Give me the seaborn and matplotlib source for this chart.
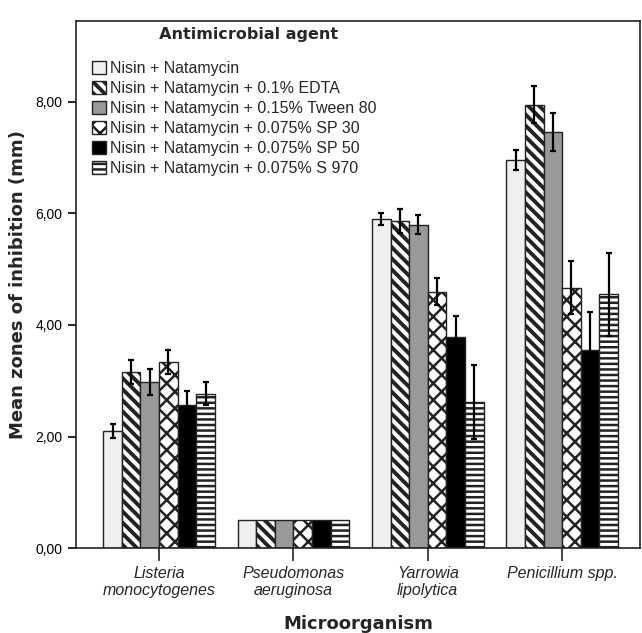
import numpy as np
import pandas as pd
import matplotlib
matplotlib.use("Agg")
import matplotlib.pyplot as plt
import seaborn as sns
from matplotlib.ticker import FuncFormatter

# data
organisms = ["Listeria\nmonocytogenes", "Pseudomonas\naeruginosa",
             "Yarrowia\nlipolytica", "Penicillium spp."]
agents = ["Nisin + Natamycin",
          "Nisin + Natamycin + 0.1% EDTA",
          "Nisin + Natamycin + 0.15% Tween 80",
          "Nisin + Natamycin + 0.075% SP 30",
          "Nisin + Natamycin + 0.075% SP 50",
          "Nisin + Natamycin + 0.075% S 970"]

# mean zones per agent, one value per organism
nn = [2.10, 0.50, 5.90, 6.96]
nn_edta = [3.16, 0.50, 5.86, 7.95]
nn_tween = [2.98, 0.50, 5.80, 7.46]
nn_sp30 = [3.34, 0.50, 4.60, 4.67]
nn_sp50 = [2.56, 0.50, 3.78, 3.56]
nn_s970 = [2.77, 0.50, 2.62, 4.55]

# error bar half-widths
err_nn = [0.12, 0.0, 0.11, 0.18]
err_edta = [0.21, 0.0, 0.22, 0.33]
err_tween = [0.24, 0.0, 0.17, 0.34]
err_sp30 = [0.21, 0.0, 0.25, 0.47]
err_sp50 = [0.26, 0.0, 0.38, 0.68]
err_s970 = [0.21, 0.0, 0.66, 0.74]

means = [nn, nn_edta, nn_tween, nn_sp30, nn_sp50, nn_s970]
errs = [err_nn, err_edta, err_tween, err_sp30, err_sp50, err_s970]

rows = []
for a, m, e in zip(agents, means, errs):
    for o, v, s in zip(organisms, m, e):
        rows.append({"Microorganism": o, "Agent": a, "mean": v, "err": s})
df = pd.DataFrame(rows)

sns.set_style("ticks")
plt.rcParams["font.family"] = ["Liberation Sans", "DejaVu Sans"]
plt.rcParams["hatch.linewidth"] = 1.8

fills = ["#efefef", "white", "#999999", "white", "black", "white"]
hatches = [None, "\\\\\\", None, "xx", None, "---"]
hatch_lw = [1.0, 2.8, 1.0, 1.8, 1.0, 1.8]

fig = plt.figure(figsize=(6.42, 6.33), dpi=100)
ax = fig.add_axes([0.118, 0.134, 0.879, 0.833])

sns.barplot(data=df, x="Microorganism", y="mean", hue="Agent",
            order=organisms, hue_order=agents, errorbar=None,
            width=0.83, edgecolor="#333333", linewidth=1.0, ax=ax)

# style each hue group, then add error bars at bar positions
bar_groups = list(ax.containers)
for i, cont in enumerate(bar_groups):
    for j, bar in enumerate(cont):
        bar.set_facecolor(fills[i])
        bar.set_edgecolor("#222222")
        if hatches[i]:
            bar.set_hatch(hatches[i])
            if hasattr(bar, "set_hatch_linewidth"):
                bar.set_hatch_linewidth(hatch_lw[i])
        e = errs[i][j]
        if e > 0:
            xc = bar.get_x() + bar.get_width() / 2
            ax.errorbar(xc, bar.get_height(), yerr=e, color="black",
                        elinewidth=1.6, capsize=2.5, capthick=1.6, zorder=5)

ax.set_xlim(-0.62, 3.58)
ax.set_ylim(0, 9.45)
ax.set_yticks([0, 2, 4, 6, 8])
ax.yaxis.set_major_formatter(FuncFormatter(lambda v, p: f"{v:.2f}".replace(".", ",")))
for lab in ax.get_xticklabels():
    lab.set_fontstyle("italic")
    lab.set_linespacing(1.15)
ax.tick_params(axis="x", length=9, width=1.2, labelsize=11.5, pad=4)
ax.tick_params(axis="y", length=6, width=1.2, labelsize=10, colors="black")
for sp in ax.spines.values():
    sp.set_visible(True)
    sp.set_linewidth(1.2)
    sp.set_color("#222222")

ax.set_xlabel("Microorganism", fontsize=13, fontweight="bold", labelpad=12,
              family=["DejaVu Sans"])
ax.set_ylabel("Mean zones of inhibition (mm)", fontsize=13, fontweight="bold",
              labelpad=6, family=["DejaVu Sans"])

leg = ax.legend(title="     Antimicrobial agent", loc="upper left",
                bbox_to_anchor=(0.009, 1.01), frameon=False, fontsize=11.5,
                handlelength=0.85, handleheight=0.9, handletextpad=0.3,
                labelspacing=0.3, borderaxespad=0.3)
leg.get_title().set_fontweight("bold")
leg.get_title().set_fontsize(11.5)
leg.get_title().set_family(["DejaVu Sans"])
leg._legend_box.sep = 14
for h, f, ht, lw in zip(leg.legend_handles, fills, hatches, hatch_lw):
    h.set_facecolor(f)
    h.set_edgecolor("#222222")
    if ht:
        h.set_hatch(ht)
        if hasattr(h, "set_hatch_linewidth"):
            h.set_hatch_linewidth(lw)

fig.savefig("out.png", dpi=100)
